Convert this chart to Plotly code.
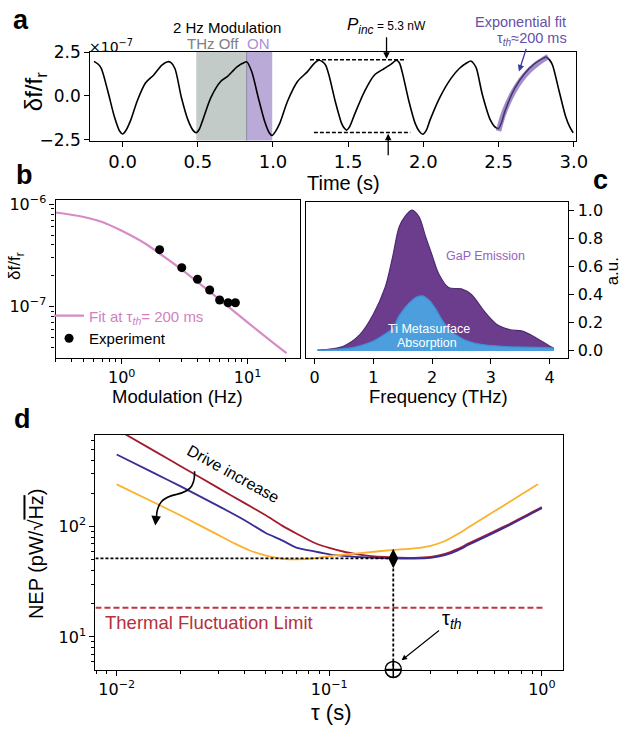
import plotly.graph_objects as go

# ---------------- data ----------------
# panel a : resonator response (units of 1e-7)
time_s = [-0.19, -0.16, -0.141, -0.098, -0.054, -0.02, 0.0, 0.02, 0.054, 0.098, 0.152, 0.207, 0.261,
          0.30, 0.32, 0.348, 0.391, 0.435, 0.47, 0.489, 0.51, 0.533, 0.587, 0.652, 0.696, 0.761,
          0.81, 0.826, 0.859, 0.902, 0.946, 0.975, 0.994, 1.015, 1.044, 1.098, 1.163, 1.228, 1.27,
          1.305, 1.33, 1.35, 1.375, 1.413, 1.457, 1.475, 1.489, 1.51, 1.544, 1.609, 1.675, 1.74,
          1.79, 1.82, 1.84, 1.859, 1.903, 1.946, 1.975, 1.996, 2.02, 2.044, 2.109, 2.185, 2.239,
          2.29, 2.316, 2.335, 2.353, 2.392, 2.446, 2.48, 2.5, 2.52, 2.544, 2.609, 2.674, 2.74,
          2.79, 2.816, 2.84, 2.859, 2.903, 2.947, 2.975, 2.996]
dff_a = [1.98, 1.8, 1.56, 0.27, -1.2, -2.0, -2.17, -2.0, -1.38, -0.27, 0.74, 1.2, 1.76,
         1.96, 1.92, 1.57, -0.09, -1.38, -1.98, -2.1, -1.9, -1.38, -0.09, 0.83, 1.11, 1.67,
         1.92, 1.95, 1.38, -0.09, -1.49, -2.1, -2.26, -2.05, -1.58, -0.27, 0.83, 1.38, 1.82,
         2.04, 1.95, 1.76, 1.1, -0.27, -1.58, -1.85, -1.95, -1.75, -1.02, 0.27, 1.2, 1.57,
         1.85, 2.04, 1.9, 1.38, -0.27, -1.58, -2.05, -2.19, -1.95, -1.38, -0.09, 1.02, 1.57,
         1.9, 2.0, 1.85, 1.57, 0.09, -1.38, -1.8, -1.86, -1.5, -0.83, 0.46, 1.29, 1.85,
         2.12, 2.22, 2.05, 1.76, 0.27, -1.2, -1.8, -2.1]
fit_time = [2.5, 2.53, 2.56, 2.6, 2.65, 2.7, 2.75, 2.8, 2.83]
fit_dff = [-2.0, -1.1, -0.45, 0.25, 0.92, 1.42, 1.8, 2.1, 2.25]
off_window = [0.49, 0.825]
on_window = [0.825, 0.995]
pinc_top_t = [1.246, 1.885]
pinc_top_v = [2.07, 2.07]
pinc_bot_t = [1.272, 1.913]
pinc_bot_v = [-2.09, -2.09]
a_xticks = [0.0, 0.5, 1.0, 1.5, 2.0, 2.5, 3.0]
a_yticks = [-2.5, 0.0, 2.5]
a_yticktext = ["\u22122.5", "0.0", "2.5"]

# panel b : modulation dependence
mod_fit_hz = [0.3, 0.5, 0.7, 1.0, 1.5, 2.0, 3.0, 5.0, 7.0, 10.0, 15.0, 20.4]
mod_fit_val = [8.3e-7, 7.5e-7, 6.7e-7, 5.5e-7, 4.2e-7, 3.3e-7, 2.3e-7, 1.4e-7, 1.0e-7, 7.0e-8, 4.7e-8, 3.5e-8]
mod_exp_hz = [2, 3, 4, 5, 6, 7, 8]
mod_exp_val = [3.6e-7, 2.4e-7, 1.85e-7, 1.45e-7, 1.16e-7, 1.09e-7, 1.09e-7]
b_xticks = [1, 10]
b_xticktext = ["10<sup>0</sup>", "10<sup>1</sup>"]
b_yticks = [1e-7, 1e-6]
b_yticktext = ["10<sup>\u22127</sup>", "10<sup>\u22126</sup>"]

# panel c : spectra
freq_gap = [0.05, 0.3, 0.5, 0.77, 1.0, 1.2, 1.33, 1.44, 1.55, 1.66, 1.78, 1.89, 2.0, 2.11, 2.28,
            2.5, 2.67, 2.89, 3.11, 3.33, 3.54, 3.78, 4.0, 4.07]
gap_emission = [0.005, 0.015, 0.035, 0.115, 0.26, 0.45, 0.67, 0.88, 0.96, 1.0, 0.95, 0.81, 0.68,
                0.55, 0.45, 0.44, 0.40, 0.28, 0.185, 0.15, 0.14, 0.09, 0.035, 0.02]
freq_ti = [0.05, 0.3, 0.6, 0.8, 1.0, 1.2, 1.33, 1.44, 1.61, 1.75, 1.84, 1.95, 2.06, 2.17, 2.28,
           2.5, 2.78, 3.28, 3.8, 4.07]
ti_absorption = [0.005, 0.01, 0.02, 0.04, 0.07, 0.12, 0.16, 0.25, 0.34, 0.385, 0.39, 0.36, 0.30,
                 0.22, 0.16, 0.09, 0.05, 0.03, 0.025, 0.02]
c_xticks = [0, 1, 2, 3, 4]
c_yticks = [0.0, 0.2, 0.4, 0.6, 0.8, 1.0]

# panel d : NEP vs tau
tau_red = [0.01, 0.015, 0.02, 0.03, 0.04, 0.05, 0.06, 0.07, 0.085, 0.1, 0.12, 0.15, 0.2, 0.25,
           0.3, 0.35, 0.4, 0.45, 0.5, 0.6, 0.7, 0.8, 0.9, 1.0]
nep_red = [760, 485, 352, 224, 163, 127, 102, 86.5, 71.3, 64, 58.5, 54.5, 52.5, 52, 53, 56.5,
           62.5, 70, 77, 91, 105, 120, 135, 150]
tau_blue = [0.01, 0.015, 0.02, 0.03, 0.04, 0.05, 0.06, 0.07, 0.085, 0.1, 0.12, 0.15, 0.2, 0.25,
            0.3, 0.35, 0.4, 0.45, 0.5, 0.6, 0.7, 0.8, 0.9, 1.0]
nep_blue = [450, 305, 231, 154, 114, 88, 75, 64.5, 59.5, 56, 54, 52.5, 51.4, 51.2, 52, 55,
            60.5, 68, 75, 88.5, 102.5, 117, 132, 147]
tau_orange = [0.01, 0.015, 0.02, 0.03, 0.036, 0.042, 0.048, 0.055, 0.062, 0.07, 0.085, 0.1, 0.14,
              0.2, 0.25, 0.3, 0.35, 0.4, 0.45, 0.5, 0.6, 0.7, 0.8, 0.9, 0.957]
nep_orange = [241, 165, 126, 84, 70, 61, 56, 52.5, 50.8, 50.5, 51.5, 54, 57.5, 61.4, 63.5, 67,
              74, 85, 98, 111, 138, 166, 195, 225, 242]
tau_th = 0.2
nep_min = 51.4
thermal_limit = 18.4
d_tau_span = [10 ** -2.1, 1.03]
d_nep_floor = 10 ** 0.7055
d_xticks = [0.01, 0.1, 1.0]
d_xticktext = ["10<sup>\u22122</sup>", "10<sup>\u22121</sup>", "10<sup>0</sup>"]
d_yticks = [10, 100]
d_yticktext = ["10<sup>1</sup>", "10<sup>2</sup>"]

# ---------------- helpers (layout only) ----------------
W, H = 633, 748


def px(x):
    return x / W


def py(y):
    return 1 - y / H


TICKFONT = dict(family="DejaVu Sans", size=16, color="black")
LABFONT = "Liberation Sans, Arial, sans-serif"


def minor_log(decades):
    return [m * 10 ** k for k in decades for m in range(2, 10)]


fig = go.Figure()

# ---- panel a ----
fig.add_trace(go.Scatter(x=time_s, y=dff_a, mode="lines", line=dict(color="black", width=1.6, shape="spline", smoothing=0.8),
                         xaxis="x", yaxis="y", showlegend=False))
fig.add_trace(go.Scatter(x=fit_time, y=fit_dff, mode="lines", line=dict(color="rgba(110,80,170,0.65)", width=5.5, shape="spline"),
                         xaxis="x", yaxis="y", showlegend=False))
fig.add_trace(go.Scatter(x=pinc_top_t, y=pinc_top_v, mode="lines", line=dict(color="black", width=1.6, dash="4px,2px"),
                         xaxis="x", yaxis="y", showlegend=False))
fig.add_trace(go.Scatter(x=pinc_bot_t, y=pinc_bot_v, mode="lines", line=dict(color="black", width=1.6, dash="4px,2px"),
                         xaxis="x", yaxis="y", showlegend=False))

# ---- panel b ----
fig.add_trace(go.Scatter(x=mod_fit_hz, y=mod_fit_val, mode="lines", line=dict(color="#d68cc6", width=2.2, shape="spline"),
                         xaxis="x2", yaxis="y2",
                         name='<span style="color:#d27fc0">Fit at \u03c4<sub><i>th</i></sub>= 200 ms</span>'))
fig.add_trace(go.Scatter(x=mod_exp_hz, y=mod_exp_val, mode="markers", marker=dict(color="black", size=9),
                         xaxis="x2", yaxis="y2", name="Experiment"))

# ---- panel c ----
fig.add_trace(go.Scatter(x=freq_gap, y=gap_emission, mode="lines", fill="tozeroy", fillcolor="#6b3d8c",
                         line=dict(color="#4f2a75", width=1.2, shape="spline", smoothing=0.9),
                         xaxis="x3", yaxis="y3", showlegend=False))
fig.add_trace(go.Scatter(x=freq_ti, y=ti_absorption, mode="lines", fill="tozeroy", fillcolor="#4c9fdc",
                         line=dict(color="#3d8fd6", width=1.2, shape="spline", smoothing=0.9),
                         xaxis="x3", yaxis="y3", showlegend=False))

# ---- panel d ----
for tx, ty, col in [(tau_red, nep_red, "#a31c2e"), (tau_blue, nep_blue, "#3a2e96"), (tau_orange, nep_orange, "#fbb12e")]:
    fig.add_trace(go.Scatter(x=tx, y=ty, mode="lines", line=dict(color=col, width=1.8, shape="spline", smoothing=0.5),
                             xaxis="x4", yaxis="y4", showlegend=False))
fig.add_trace(go.Scatter(x=[d_tau_span[0], d_tau_span[1]], y=[thermal_limit, thermal_limit], mode="lines",
                         line=dict(color="#c0343f", width=2, dash="6px,3px"),
                         xaxis="x4", yaxis="y4", showlegend=False))
fig.add_trace(go.Scatter(x=[d_tau_span[0], tau_th], y=[nep_min, nep_min], mode="lines",
                         line=dict(color="black", width=1.8, dash="3px,2px"),
                         xaxis="x4", yaxis="y4", showlegend=False))
fig.add_trace(go.Scatter(x=[tau_th, tau_th], y=[nep_min, d_nep_floor], mode="lines",
                         line=dict(color="black", width=1.8, dash="3px,2px"),
                         xaxis="x4", yaxis="y4", showlegend=False))
fig.add_trace(go.Scatter(x=[tau_th], y=[nep_min], mode="markers", marker=dict(symbol="diamond-tall", size=14, color="black"),
                         xaxis="x4", yaxis="y4", showlegend=False))
fig.add_trace(go.Scatter(x=[tau_th], y=[d_nep_floor], mode="markers", cliponaxis=False,
                         marker=dict(symbol="circle-cross-open", size=16, color="black",
                                     line=dict(width=1.5, color="black")),
                         xaxis="x4", yaxis="y4", showlegend=False))

# ---------------- axes ----------------
common = dict(showline=True, linecolor="black", linewidth=1.3, mirror=True, ticks="outside", ticklen=5,
              tickwidth=1.2, tickcolor="black", showgrid=False, zeroline=False, tickfont=TICKFONT)

fig.update_layout(
    xaxis=dict(domain=[px(92), px(587)], range=[-0.215, 3.014], tickvals=a_xticks, ticktext=[f"{v:.1f}" for v in a_xticks],
               anchor="y", **{**common, "tickfont": dict(family="DejaVu Sans", size=18, color="black")}),
    yaxis=dict(domain=[py(134), py(43)], range=[-2.55, 2.52], tickvals=a_yticks, ticktext=a_yticktext,
               anchor="x", **{**common, "tickfont": dict(family="DejaVu Sans", size=17, color="black")}),
    xaxis2=dict(domain=[px(56.7), px(306)], type="log", range=[-0.525, 1.418], tickvals=b_xticks, ticktext=b_xticktext,
                anchor="y2", minor=dict(ticks="outside", ticklen=3, tickcolor="black", tickvals=minor_log([-1, 0, 1]), showgrid=False),
                **common),
    yaxis2=dict(domain=[py(357), py(195)], type="log", range=[-7.502, -5.959], tickvals=b_yticks, ticktext=b_yticktext,
                anchor="x2", minor=dict(ticks="outside", ticklen=3, tickcolor="black", tickvals=minor_log([-8, -7]), showgrid=False),
                **common),
    xaxis3=dict(domain=[px(311.7), px(579.3)], range=[-0.15, 4.32], tickvals=c_xticks, anchor="y3", **common),
    yaxis3=dict(domain=[py(357), py(197.3)], range=[-0.05, 1.055], tickvals=c_yticks,
                ticktext=[f"{v:.1f}" for v in c_yticks], side="right", anchor="x3", **common),
    xaxis4=dict(domain=[px(97.3), px(574)], type="log", range=[-2.1, 0.1], tickvals=d_xticks, ticktext=d_xticktext,
                anchor="y4", minor=dict(ticks="outside", ticklen=3, tickcolor="black", tickvals=minor_log([-3, -2, -1]), showgrid=False),
                **common),
    yaxis4=dict(domain=[py(676.7), py(436)], type="log", range=[0.705, 2.83], tickvals=d_yticks, ticktext=d_yticktext,
                anchor="x4", minor=dict(ticks="outside", ticklen=3, tickcolor="black", tickvals=minor_log([0, 1, 2]), showgrid=False),
                **common),
)

# ---------------- shapes ----------------
shapes = [
    dict(type="rect", xref="x", yref="y domain", x0=off_window[0], x1=off_window[1], y0=0, y1=1,
         fillcolor="#c2cbc7", line=dict(width=0), layer="below"),
    dict(type="rect", xref="x", yref="y domain", x0=on_window[0], x1=on_window[1], y0=0, y1=1,
         fillcolor="#b9aad7", line=dict(width=0), layer="below"),
    dict(type="line", xref="x", yref="y domain", x0=off_window[1], x1=off_window[1], y0=0, y1=1,
         line=dict(color="#8a8aa0", width=1), layer="below"),
    # curly "drive increase" arrow
    dict(type="path", xref="paper", yref="paper",
         path=f"M {px(198.3)},{py(473.3)} C {px(199)},{py(490)} {px(192)},{py(494)} {px(180)},{py(497)} "
              f"C {px(166)},{py(500)} {px(160)},{py(506)} {px(159.5)},{py(520)}",
         line=dict(color="black", width=1.6)),
]
fig.update_layout(shapes=shapes)

# ---------------- annotations ----------------
ann = []


def text(x, y, s, size, color="black", family=LABFONT, xanchor="center", yanchor="middle", angle=0):
    ann.append(dict(x=px(x), y=py(y), xref="paper", yref="paper", text=s, showarrow=False,
                    font=dict(size=size, color=color, family=family), xanchor=xanchor, yanchor=yanchor,
                    textangle=angle))


def arrow(tx, ty, ax, ay, color="black", width=1.3, head=2, size=1.0):
    ann.append(dict(x=px(tx), y=py(ty), xref="paper", yref="paper", text="", showarrow=True,
                    ax=ax, ay=ay, arrowhead=head, arrowsize=size, arrowwidth=width, arrowcolor=color))


# panel letters
text(11, 10, "<b>a</b>", 27, xanchor="left")
text(14, 169, "<b>b</b>", 27, xanchor="left")
text(612, 174, "<b>c</b>", 27)
text(12, 420, "<b>d</b>", 27, xanchor="left")

# panel a
text(231, 18, "2 Hz Modulation", 15)
text(216.7, 34, "THz Off", 15, color="#808080")
text(264, 34, "ON", 15, color="#a98fd8")
text(89, 37, "\u00d710<sup>\u22127</sup>", 14, family="DejaVu Sans", xanchor="left")
text(394, 16, "<i>P<sub>inc</sub></i><span style='font-size:12px'> = 5.3 nW</span>", 17)
arrow(394, 50, 0, -23, width=1.3)
arrow(395.7, 127, 0, 23, width=1.3)
text(531, 12, "Exponential fit", 14.5, color="#6650a8")
text(542, 30, "\u03c4<sub><i>th</i></sub>\u2248200 ms", 14.5, color="#6650a8")
arrow(529, 63, 7.7, -24, color="#3b38a0", width=1.3)
text(37, 84, "\u03b4f/f<sub>r</sub>", 24, angle=-90)
text(350, 178, "Time (s)", 20)

# panel b
text(181, 397, "Modulation (Hz)", 18.5)
text(17, 263, "\u03b4f/f<sub>r</sub>", 17, angle=-90)

# panel c
text(447, 397, "Frequency (THz)", 18.5)
text(624, 268, "a.u.", 17, angle=-90)
text(495, 252.5, "GaP Emission", 12.5, color="#9563c0")
text(437.5, 327.5, "Ti Metasurface", 12.5, color="white")
text(435, 342, "Absorption", 12.5, color="white")

# panel d
text(337, 721, "\u03c4 (s)", 22)
text(37, 558, "NEP (pW/\u221a<span style='text-decoration:overline'>Hz</span>)", 20, angle=-90)
text(105, 628, "Thermal Fluctuation Limit", 18.5, color="#b5303c", xanchor="left")
text(237, 476, "Drive increase", 16, angle=29)
arrow(158.3, 529, 1, -11, width=1.6, size=1.2)
text(461, 625, "\u03c4<sub><i>th</i></sub>", 20)
arrow(409.3, 667.3, 39, -31, width=1.1)

fig.update_layout(annotations=ann)

fig.update_layout(
    width=W, height=H, margin=dict(l=0, r=0, t=0, b=0),
    paper_bgcolor="white", plot_bgcolor="white",
    font=dict(family=LABFONT, color="black"),
    showlegend=True,
    legend=dict(x=px(50), y=py(297), xanchor="left", yanchor="top", bgcolor="rgba(0,0,0,0)",
                font=dict(size=15, family=LABFONT, color="black"), itemwidth=30, tracegroupgap=0),
)

fig.write_html(
    "out.html",
    config={"displayModeBar": False},
    post_script="document.body.style.margin='0px';document.body.style.overflow='hidden';",
)
